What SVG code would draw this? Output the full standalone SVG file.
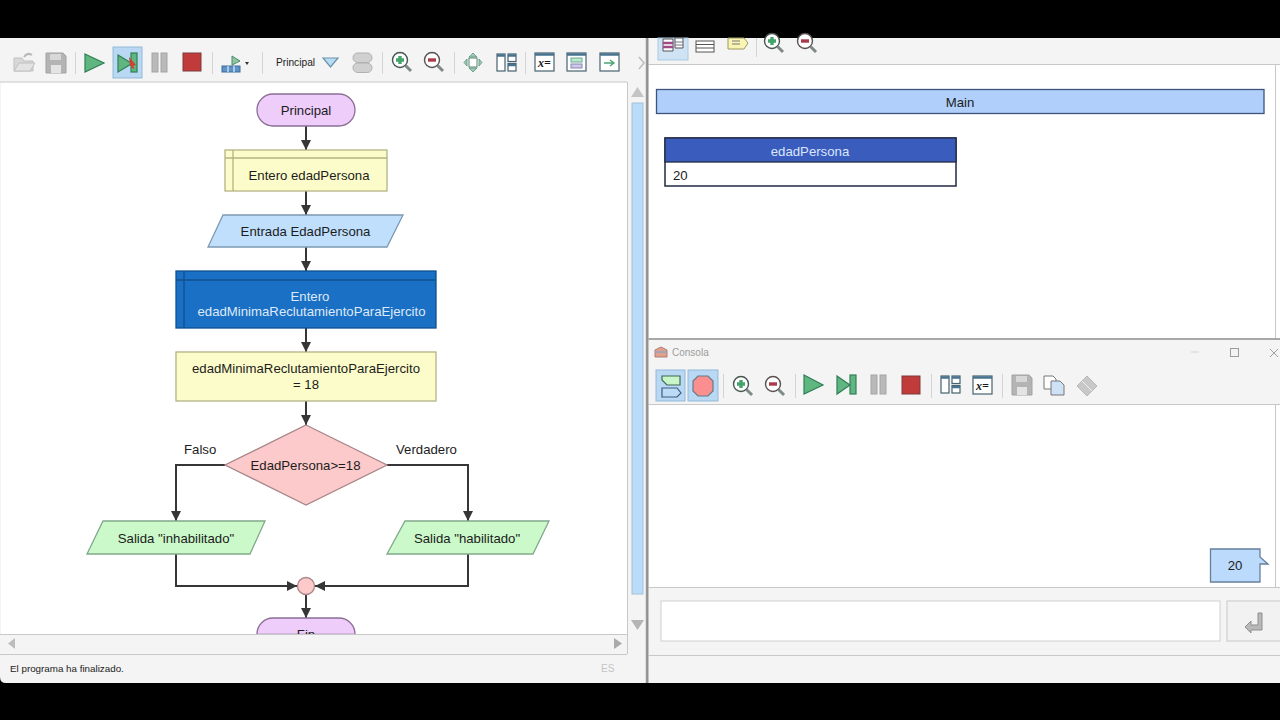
<svg xmlns="http://www.w3.org/2000/svg" xmlns:xlink="http://www.w3.org/1999/xlink" width="1280" height="720" viewBox="0 0 1280 720">
<style>
text{font-family:"Liberation Sans",Arial,sans-serif;font-size:13.2px;fill:#1c1c1c}
.c{text-anchor:middle}
.conn{fill:none;stroke:#363636;stroke-width:2}
.sep{stroke:#d4d4d4;stroke-width:1}
.edge{stroke:#c8c8c8;stroke-width:1;fill:none}
.pl{fill:#eecdfb;stroke:#8b6f96;stroke-width:1.300}
.ye{fill:#fcfcca;stroke:#b3b384;stroke-width:1.300}
.bl{fill:#bfdffc;stroke:#7d9ab3;stroke-width:1.300}
.gr{fill:#cbf9ca;stroke:#80a88a;stroke-width:1.300}
.pk{fill:#fccaca;stroke:#a88587;stroke-width:1.300}
.g-i{fill:#5fb680;stroke:#2f7f55;stroke-width:1.200}
.r-i{fill:#c23b3b;stroke:#7b3a3a;stroke-width:1}
.p-i{fill:#b9b9b9;stroke:#a5a5a5;stroke-width:1}
.w-i{fill:#fff;stroke:#47626f;stroke-width:1.200}
.hl{fill:#b8d8f3;stroke:#92b9d8;stroke-width:1}
</style>
<defs>
<marker id="ah" viewBox="0 0 10 10" refX="10" refY="5" markerWidth="10" markerHeight="10" markerUnits="userSpaceOnUse" orient="auto"><path d="M0,0L10,5L0,10Z" fill="#363636"/></marker>
<g id="zp"><circle r="7.500" fill="#fff" stroke="#46564e" stroke-width="1.400"/><path d="M5.500,5.500L11,11" stroke="#7f8a88" stroke-width="3"/><path d="M-4,0H4M0,-4V4" stroke="#43a36b" stroke-width="3.400"/></g>
<g id="zm"><circle r="7.500" fill="#fff" stroke="#5a5050" stroke-width="1.400"/><path d="M5.500,5.500L11,11" stroke="#7f8a88" stroke-width="3"/><path d="M-4,0H4" stroke="#a83a4a" stroke-width="3.400"/></g>
<g id="lay"><rect x="0" y="0" width="8" height="17" class="w-i"/><rect x="11" y="0" width="8" height="7.500" class="w-i"/><rect x="11" y="9.500" width="8" height="7.500" class="w-i"/><path d="M0,1.500H8M11,1.500H19M11,11H19" stroke="#47738f" stroke-width="2.500"/></g>
<g id="xw"><rect x="0" y="0" width="19" height="18" class="w-i"/><path d="M0,1.500H19" stroke="#47738f" stroke-width="2.500"/><text x="9.500" y="14" class="c" style="font-family:'Liberation Serif',serif;font-size:12px;font-style:italic;font-weight:bold">x=</text></g>
<g id="sv"><path d="M0,0H17L20,3V20H0Z" fill="#b4b4b4" stroke="#a2a2a2"/><rect x="4" y="1" width="11" height="6" fill="#d8d8d8"/><rect x="5" y="12" width="10" height="8" fill="#e4e4e4"/></g>
</defs>

<rect width="1280" height="720" fill="#000"/>

<g id="left-window">
<path d="M0,38H647V683H6Q0,683 0,677Z" fill="#f4f4f4"/>
<rect x="1" y="82" width="626" height="552" fill="#fff"/>
<path d="M0,82H627M0,634.500H627M0,654.500H627M627.500,82V654" class="edge"/>
<path d="M646.500,38V683" stroke="#9a9a9a" stroke-width="1.500"/>
<rect x="632" y="103" width="11" height="491" fill="#b9dcfb" stroke="#a3bfd6"/>
<path d="M637.500,87L644,97H631Z" fill="#c4c4c4"/><path d="M637.500,630L644,620H631Z" fill="#b4b4b4"/>
<path d="M8,643.500L15,638V649Z" fill="#bcbcbc"/>
<path d="M622,643.500L614,649V638Z" fill="#a9a9a9"/>
<text x="10" y="672" style="font-size:9.800px">El programa ha finalizado.</text>
<text x="601" y="672" style="font-size:10px;fill:#c4c4c4">ES</text>
</g>

<g id="left-toolbar">
<path d="M14,58H22L24,61H33V71H14Z" fill="#d8d8d8" stroke="#c0c0c0"/><path d="M14,71L19,63H35L30,71Z" fill="#e3e3e3" stroke="#c0c0c0"/><path d="M24,57Q27,52 32,55" fill="none" stroke="#b8b8b8" stroke-width="2"/>
<use xlink:href="#sv" x="46" y="53"/>
<path d="M75.500,52V74M212.500,52V74M262.500,52V74M382.500,52V74M454.500,52V74M525.500,52V74" class="sep"/>
<path d="M85,54L104,63L85,72Z" class="g-i"/>
<rect x="113" y="47" width="29" height="31" class="hl"/>
<path d="M118,55L132,63.500L118,72Z" class="g-i"/><rect x="131" y="53" width="6" height="19" class="g-i"/>
<path d="M129,57L136,65L133,66L135,69L132,68L130,65Z" fill="#d2402f"/>
<rect x="152" y="53" width="6" height="19" class="p-i"/><rect x="161" y="53" width="6" height="19" class="p-i"/>
<rect x="183" y="53" width="18" height="18" class="r-i"/>
<path d="M232,56L240,61L232,65Z" fill="#8fc7a4" stroke="#4b8b6a"/><rect x="222" y="66" width="18" height="6" fill="#5d93c9" stroke="#3a6d9c"/><path d="M228,66V72M234,66V72" stroke="#fff"/>
<path d="M245,62H249L247,65Z" fill="#333"/>
<text x="276" y="66" style="font-size:10.200px">Principal</text>
<path d="M323,58H338L330.500,67Z" fill="#b8dcf4" stroke="#6b93aa" stroke-width="1.200"/>
<rect x="353" y="53" width="19" height="9.500" rx="4.700" fill="#d0d0d0" stroke="#b0b0b0"/><rect x="353" y="63" width="19" height="9.500" rx="4.700" fill="#d0d0d0" stroke="#b0b0b0"/>
<use xlink:href="#zp" x="400" y="60"/><use xlink:href="#zm" x="432" y="60"/>
<g fill="#9cc9b2" stroke="#5f957c" stroke-width=".8"><path d="M473,53L477,57H469Z"/><path d="M473,72L477,68H469Z"/><path d="M464,62.500L467,59V66Z"/><path d="M482,62.500L479,59V66Z"/></g><rect x="469" y="58" width="8" height="9" fill="#fff" stroke="#587"/>
<use xlink:href="#lay" x="497" y="54"/>
<use xlink:href="#xw" x="535" y="53"/>
<rect x="567" y="53" width="19" height="18" class="w-i"/><path d="M567,54.500H586" stroke="#47738f" stroke-width="2.500"/><rect x="571" y="58" width="11" height="4" fill="#bfeac7" stroke="#6a9"/><rect x="571" y="64" width="11" height="4" fill="#cdc8ec" stroke="#88a"/>
<rect x="600" y="53" width="19" height="18" class="w-i"/><path d="M600,54.500H619" stroke="#47738f" stroke-width="2.500"/><path d="M604,63H613M610,60L614,63L610,66" fill="none" stroke="#4aa36f" stroke-width="1.300"/>
<path d="M639,57L644,63L639,69" fill="none" stroke="#bdbdbd" stroke-width="1.500"/>
</g>

<g id="connectors">
<path class="conn" marker-end="url(#ah)" d="M306,126V150"/>
<path class="conn" marker-end="url(#ah)" d="M306,191V215"/>
<path class="conn" marker-end="url(#ah)" d="M306,247V271"/>
<path class="conn" marker-end="url(#ah)" d="M306,328V352"/>
<path class="conn" marker-end="url(#ah)" d="M306,401V425"/>
<path class="conn" marker-end="url(#ah)" d="M225,465H176V521"/>
<path class="conn" marker-end="url(#ah)" d="M387,465H468V521"/>
<path class="conn" marker-end="url(#ah)" d="M176,554V586H297"/>
<path class="conn" marker-end="url(#ah)" d="M468,554V586H315"/>
<path class="conn" marker-end="url(#ah)" d="M306,595V618"/>
</g>

<g id="n-principal"><rect x="257" y="94" width="98" height="32" rx="16" class="pl"/><text x="306" y="115" class="c">Principal</text></g>
<g id="n-entero"><rect x="225" y="150" width="162" height="41" class="ye"/><path d="M225,158H387M233,150V191" fill="none" stroke="#b3b384" stroke-width="1.300"/><text x="309" y="179.500" class="c">Entero edadPersona</text></g>
<g id="n-entrada"><path d="M223,215H403L387,247H208Z" class="bl"/><text x="305.500" y="236" class="c">Entrada EdadPersona</text></g>
<g id="n-entero2"><rect x="176" y="271" width="260" height="57" fill="#1a70c4" stroke="#10518f" stroke-width="1.300"/><path d="M176,280H436M184,271V328" fill="none" stroke="#10518f" stroke-width="1.300"/><text x="310" y="300.500" class="c" style="fill:#dfe9f8">Entero</text><text x="311.500" y="316" class="c" style="fill:#dfe9f8">edadMinimaReclutamientoParaEjercito</text></g>
<g id="n-asignar"><rect x="176" y="352" width="260" height="49" class="ye"/><text x="306" y="373" class="c">edadMinimaReclutamientoParaEjercito</text><text x="306" y="388.500" class="c">= 18</text></g>
<g id="n-decision"><path d="M306,425L387,465L306,505L225,465Z" class="pk"/><text x="305.500" y="470" class="c">EdadPersona&gt;=18</text></g>
<text x="184" y="454">Falso</text>
<text x="396" y="454">Verdadero</text>
<g id="n-inhab"><path d="M103,521H265L250,554H87Z" class="gr"/><text x="176" y="543" class="c">Salida "inhabilitado"</text></g>
<g id="n-hab"><path d="M405,521H549L533,554H387Z" class="gr"/><text x="467" y="543" class="c">Salida "habilitado"</text></g>
<g id="n-junta"><circle cx="306" cy="586" r="8.500" class="pk"/></g>
<g id="n-fin"><path d="M257,634.500V634A16,16 0 0 1 273,618H339A16,16 0 0 1 355,634V634.500Z" class="pl"/><text x="306" y="639" class="c">Fin</text><rect x="240" y="635" width="130" height="10" fill="#f4f4f4"/><path d="M240,634.500H370" class="edge"/></g>

<g id="right-window">
<rect x="648" y="38" width="632" height="645" fill="#f4f4f4"/>
<rect x="649" y="64" width="631" height="274" fill="#fff"/>
<rect x="649" y="405" width="631" height="182" fill="#fff"/>
<path d="M648,64.500H1280M648,404.500H1280M648,587.500H1280M648,655.500H1280M1275.500,64V338M1275.500,405V587" class="edge"/>
<path d="M648,339H1280" stroke="#a8a8a8" stroke-width="2"/>
<path d="M648,38V683" stroke="#b5b5b5" stroke-width="1.500"/>
</g>

<g id="right-toolbar">
<rect x="658" y="38" width="30" height="22" fill="#cfe3f5" stroke="#a9c9e3"/>
<path d="M663,39H673V51H663ZM675,38H683V48H675Z" fill="#fff" stroke="#555"/><path d="M663,43H673M663,47H673" stroke="#a04a88" stroke-width="2.500"/><path d="M675,42H683M675,45H683" stroke="#778"/>
<rect x="696" y="41" width="18" height="11" fill="#fff" stroke="#555"/><path d="M696,44.500H714M696,48H714" stroke="#555"/>
<path d="M728,38H744L748,43L744,49H728Z" fill="#fbf5b4" stroke="#9a9a60"/><path d="M732,41H740M732,44H740" stroke="#777"/>
<path d="M756.500,38V57" class="sep"/>
<use xlink:href="#zp" x="772" y="41"/><use xlink:href="#zm" x="805" y="41"/>
</g>

<g id="n-main"><rect x="656.500" y="89.500" width="607.500" height="24" fill="#b0cffb" stroke="#3e527e" stroke-width="1.300"/><text x="960" y="107" class="c">Main</text></g>
<g id="n-tabla"><rect x="665" y="138" width="291" height="48" fill="#fff" stroke="#222a44" stroke-width="1.500"/><rect x="665" y="138" width="291" height="24" fill="#3a5dbd" stroke="#222a44" stroke-width="1.300"/><text x="810" y="155.500" class="c" style="fill:#dce6fb">edadPersona</text><text x="673" y="180">20</text></g>

<g id="console-head">
<path d="M655,350L661,347L667,350V357H655Z" fill="#e0a08c" stroke="#b07a70"/><path d="M655,352H667" stroke="#8fa6c0" stroke-width="1.500"/>
<text x="672" y="356" style="font-size:10px;fill:#9c9c9c">Consola</text>
<path d="M1191,352H1199" stroke="#d4d4d4"/>
<rect x="1230.500" y="348.500" width="8" height="8" fill="none" stroke="#9c9c9c"/>
<path d="M1270,349L1278,357M1278,349L1270,357" stroke="#a0a0a0"/>
</g>

<g id="console-toolbar">
<rect x="656" y="370" width="29" height="31" class="hl"/><rect x="688" y="370" width="30" height="31" class="hl"/>
<path d="M662,376H680V385H667L662,380Z" fill="#c9f5c9" stroke="#3f6a55" stroke-width="1.200"/><path d="M662,388H677L681,393L677,397H662Z" fill="#bcdcf5" stroke="#3f5a85" stroke-width="1.200"/>
<path d="M698,376H708L713,381V391L708,396H698L693,391V381Z" fill="#fb8f8f" stroke="#5f7d8a" stroke-width="1.200"/>
<path d="M723.500,374V398M795.500,374V398M931.500,374V398M1002.500,374V398" class="sep"/>
<use xlink:href="#zp" x="741" y="384"/><use xlink:href="#zm" x="773" y="384"/>
<path d="M804,375L823,385L804,394Z" class="g-i"/>
<path d="M837,376L850,385L837,394Z" class="g-i"/><rect x="850" y="375" width="6" height="19" class="g-i"/>
<rect x="871" y="375" width="6" height="19" class="p-i"/><rect x="880" y="375" width="6" height="19" class="p-i"/>
<rect x="902" y="376" width="18" height="18" class="r-i"/>
<use xlink:href="#lay" x="941" y="376"/>
<use xlink:href="#xw" x="973" y="376"/>
<use xlink:href="#sv" x="1012" y="375"/>
<path d="M1044,376H1053L1056,379V389H1044Z" fill="#fff" stroke="#777"/><path d="M1051,381H1060L1064,385V395H1051Z" fill="#cfe2f5" stroke="#777"/>
<path d="M1077,386L1087,376L1097,386L1087,396Z" fill="#c8c8c8" stroke="#b8b8b8"/><path d="M1082,381L1092,391" stroke="#f0f0f0"/>
</g>

<g id="n-burbuja"><path d="M1210.500,549H1260V557L1268,564H1260V582H1210.500Z" fill="#bcdafb" stroke="#65809c" stroke-width="1.300"/><text x="1235" y="570" class="c">20</text></g>

<g id="console-input">
<rect x="661" y="601" width="559" height="40" fill="#fff" stroke="#d0d0d0"/>
<rect x="1227" y="601" width="60" height="40" fill="#f2f2f2" stroke="#c8c8c8"/>
<path d="M1258,613H1262V630H1251V633L1245,627L1251,621V625H1258Z" fill="#b9b9b9" stroke="#8f8f8f"/>
</g>

<rect x="0" y="683" width="1280" height="37" fill="#000"/>
</svg>
